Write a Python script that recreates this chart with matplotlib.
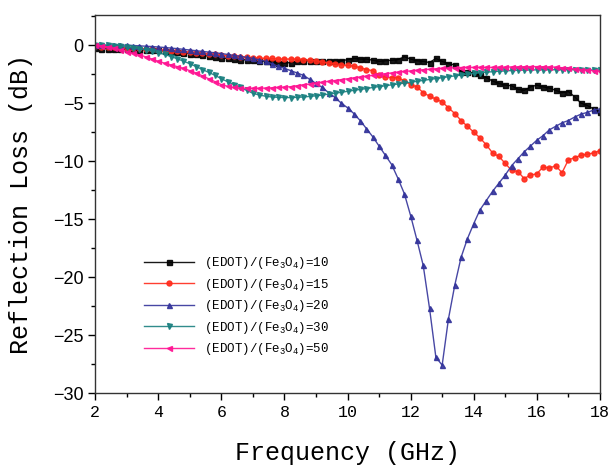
import numpy as np
import matplotlib
matplotlib.use("Agg")
from matplotlib import pyplot as plt
from matplotlib.ticker import MultipleLocator

# Frequency grid (GHz), 0.2 GHz steps from 2 to 18
freq = np.linspace(2, 18, 81)

# Reflection loss (dB) for each (EDOT)/(Fe3O4) ratio
rl_10 = [-0.28, -0.30, -0.30, -0.32, -0.33, -0.35, -0.37, -0.39, -0.41, -0.42,
         -0.45, -0.50, -0.55, -0.60, -0.67, -0.73, -0.80, -0.87, -0.95, -1.02,
         -1.10, -1.15, -1.20, -1.25, -1.27, -1.30, -1.35, -1.40, -1.45, -1.50,
         -1.55, -1.50, -1.40, -1.35, -1.35, -1.40, -1.40, -1.35, -1.40, -1.35,
         -1.25, -1.15, -1.20, -1.20, -1.30, -1.40, -1.35, -1.30, -1.25, -1.00,
         -1.20, -1.35, -1.40, -1.50, -1.15, -1.40, -1.60, -1.70, -2.30, -2.35,
         -2.40, -2.60, -2.80, -3.10, -3.30, -3.45, -3.50, -3.80, -3.90, -3.60,
         -3.45, -3.60, -3.70, -3.90, -4.10, -4.00, -4.45, -5.00, -5.20, -5.50,
         -5.75]

rl_15 = [-0.10, -0.12, -0.15, -0.18, -0.20, -0.22, -0.25, -0.28, -0.32, -0.36,
         -0.40, -0.44, -0.48, -0.52, -0.56, -0.60, -0.65, -0.70, -0.75, -0.80,
         -0.85, -0.90, -0.95, -1.00, -1.05, -1.10, -1.10, -1.15, -1.15, -1.20,
         -1.20, -1.20, -1.20, -1.25, -1.30, -1.35, -1.45, -1.55, -1.60, -1.70,
         -1.75, -1.80, -1.95, -2.10, -2.20, -2.60, -2.75, -2.80, -2.80, -3.10,
         -3.40, -3.60, -4.10, -4.40, -4.65, -4.90, -5.40, -5.90, -6.50, -7.00,
         -7.50, -8.00, -8.60, -9.30, -9.60, -10.20, -10.80, -10.90, -11.50, -11.20,
         -11.10, -10.50, -10.60, -10.40, -11.00, -9.90, -9.70, -9.50, -9.40, -9.30,
         -9.10]

rl_20 = [0.00, 0.00, 0.00, 0.00, 0.00, 0.00, -0.03, -0.06, -0.09, -0.12,
         -0.16, -0.20, -0.25, -0.30, -0.36, -0.42, -0.48, -0.54, -0.60, -0.66,
         -0.72, -0.80, -0.88, -0.96, -1.05, -1.15, -1.27, -1.40, -1.60, -1.82,
         -2.00, -2.20, -2.40, -2.60, -2.95, -3.30, -3.65, -4.10, -4.50, -5.00,
         -5.40, -5.90, -6.50, -7.20, -7.90, -8.70, -9.50, -10.30, -11.50, -12.80,
         -14.70, -16.80, -19.00, -22.70, -26.90, -27.60, -23.60, -20.70, -18.30, -16.70,
         -15.40, -14.20, -13.40, -12.60, -11.90, -11.20, -10.40, -9.80, -9.20, -8.70,
         -8.20, -7.80, -7.30, -7.00, -6.70, -6.50, -6.20, -5.95, -5.80, -5.60,
         -5.50]

rl_30 = [0.00, 0.00, -0.02, -0.05, -0.10, -0.15, -0.22, -0.30, -0.40, -0.52,
         -0.65, -0.80, -0.98, -1.17, -1.38, -1.60, -1.85, -2.10, -2.35, -2.60,
         -2.90, -3.15, -3.40, -3.65, -3.90, -4.15, -4.30, -4.40, -4.47, -4.50,
         -4.52, -4.52, -4.50, -4.47, -4.42, -4.37, -4.30, -4.22, -4.15, -4.07,
         -3.98, -3.90, -3.82, -3.74, -3.65, -3.57, -3.50, -3.42, -3.35, -3.27,
         -3.20, -3.12, -3.04, -2.96, -2.88, -2.80, -2.72, -2.65, -2.57, -2.50,
         -2.44, -2.38, -2.33, -2.29, -2.25, -2.22, -2.19, -2.17, -2.15, -2.14,
         -2.13, -2.12, -2.12, -2.12, -2.12, -2.12, -2.12, -2.12, -2.13, -2.14,
         -2.15]

rl_50 = [0.00, -0.05, -0.15, -0.25, -0.40, -0.55, -0.70, -0.85, -1.00, -1.20,
         -1.40, -1.55, -1.70, -1.85, -2.00, -2.20, -2.40, -2.65, -2.90, -3.15,
         -3.40, -3.55, -3.65, -3.70, -3.72, -3.72, -3.72, -3.70, -3.68, -3.65,
         -3.62, -3.58, -3.50, -3.42, -3.35, -3.27, -3.20, -3.12, -3.05, -2.97,
         -2.90, -2.82, -2.75, -2.68, -2.60, -2.53, -2.46, -2.40, -2.33, -2.27,
         -2.22, -2.17, -2.12, -2.08, -2.04, -2.00, -1.97, -1.95, -1.93, -1.92,
         -1.92, -1.92, -1.92, -1.92, -1.90, -1.90, -1.88, -1.87, -1.86, -1.85,
         -1.85, -1.86, -1.88, -1.90, -1.95, -2.00, -2.05, -2.10, -2.15, -2.20,
         -2.25]

ratios = ['10', '15', '20', '30', '50']
series = [rl_10, rl_15, rl_20, rl_30, rl_50]
colors = ['#000000', '#ff2a1a', '#33339a', '#1a8080', '#ff1493']
markers = ['s', 'o', '^', 'v', '<']

plt.rcParams['mathtext.fontset'] = 'custom'
plt.rcParams['mathtext.rm'] = 'Liberation Mono'
plt.rcParams['mathtext.it'] = 'Liberation Mono'

fig = plt.figure(figsize=(6.14, 4.69), dpi=100)
ax = fig.add_axes([0.155, 0.162, 0.822, 0.806])

for rl, r, c, m in zip(series, ratios, colors, markers):
    ax.plot(freq, rl, color=c, marker=m, markersize=3.6, linewidth=1.0,
            alpha=0.9, label=r'(EDOT)/(Fe$_3$O$_4$)=' + r)

ax.set_xlim(2, 18)
ax.set_ylim(-30, 2.6)
ax.xaxis.set_major_locator(MultipleLocator(2))
ax.xaxis.set_minor_locator(MultipleLocator(1))
ax.yaxis.set_major_locator(MultipleLocator(5))
ax.yaxis.set_minor_locator(MultipleLocator(2.5))
ax.tick_params(which='major', direction='out', length=5, width=1)
ax.tick_params(which='minor', direction='out', length=3, width=1)
for s in ax.spines.values():
    s.set_linewidth(1.0)
    s.set_color('#333333')

for lab in ax.get_xticklabels():
    lab.set_family('Liberation Mono')
    lab.set_fontsize(12)
for lab in ax.get_yticklabels():
    lab.set_family('Liberation Sans')
    lab.set_fontsize(13)

ax.set_xlabel('Frequency (GHz)', family='Liberation Mono', fontsize=18, labelpad=15)
ax.set_ylabel('Reflection Loss (dB)', family='Liberation Mono', fontsize=18, labelpad=14)

leg = ax.legend(loc='upper left', bbox_to_anchor=(0.075, 0.395), frameon=False,
                prop={'family': 'Liberation Mono', 'size': 9},
                handlelength=4.0, handletextpad=0.8, labelspacing=0.45)

fig.savefig('out.png', dpi=100)
